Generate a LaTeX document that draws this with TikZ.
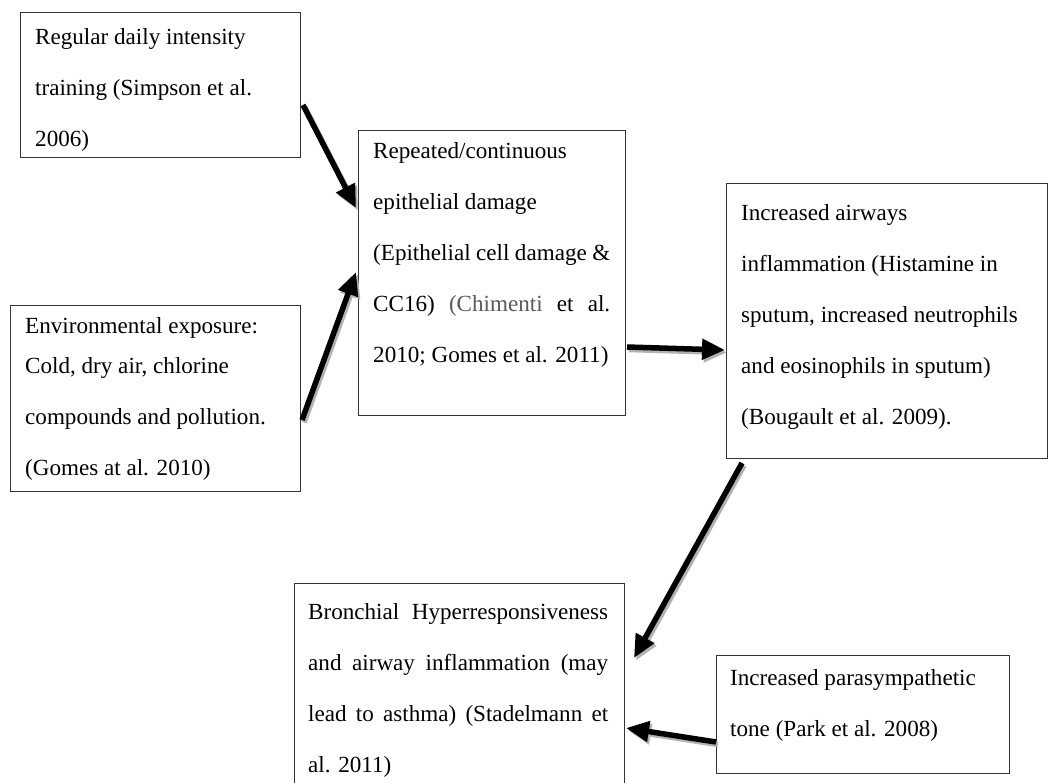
\documentclass[tikz,border=0pt]{standalone}
\usepackage{fontspec}
\setmainfont{Liberation Serif}
\usetikzlibrary{arrows.meta}
\definecolor{citegray}{HTML}{5A5A5A}
\begin{document}
\begin{tikzpicture}[x=1pt,y=-1pt,
  box/.style={draw=black!80, line width=1pt, anchor=north west, inner sep=0pt, outer sep=0pt},
  txt/.style={anchor=base west, inner sep=0pt, font=\fontsize{23.1}{51}\selectfont},
  arr/.style={line width=5.5pt, -{Triangle[length=23pt,width=20pt]}},
  shd/.style={arr, draw=black!30, transform canvas={shift={(2pt,-2.5pt)}}}]
\useasboundingbox (0,0) rectangle (1048,782);
\fill[white] (0,0) rectangle (1048,782);
\clip (0,0) rectangle (1048,782);

% boxes
\node[box, minimum width=280pt, minimum height=145pt] (A) at (20,12) {};
\node[box, minimum width=267pt, minimum height=285pt] (B) at (358,130) {};
\node[box, minimum width=321pt, minimum height=275pt] (C) at (726,183) {};
\node[box, minimum width=290pt, minimum height=186pt] (D) at (10,305) {};
\node[box, minimum width=293pt, minimum height=118pt] (E) at (716,655) {};
\node[box, minimum width=330pt, minimum height=230pt] (F) at (294,583) {};

% texts
\node[txt] (tA) at (35,44) {\parbox[t]{260pt}{Regular daily intensity\\training (Simpson et al.\\2006)}};
\node[txt] (tB) at (373,158) {\parbox[t]{237pt}{Repeated/continuous\\epithelial damage\\(Epithelial cell damage \&\\\makebox[\linewidth][s]{CC16) {\color{citegray}(Chimenti} et al.}\\2010; Gomes et al. 2011)}};
\node[txt] (tC) at (741,220) {\parbox[t]{295pt}{Increased airways\\inflammation (Histamine in\\sputum, increased neutrophils\\and eosinophils in sputum)\\(Bougault et al. 2009).}};
\node[txt] (tD) at (25,333) {\parbox[t]{270pt}{Environmental exposure:\\[-11pt]Cold, dry air, chlorine\\compounds and pollution.\\(Gomes at al. 2010)}};
\node[txt] (tE) at (730,685) {\parbox[t]{270pt}{Increased parasympathetic\\tone (Park et al. 2008)}};
\node[txt] (tF) at (308,619) {\parbox[t]{300pt}{\makebox[\linewidth][s]{Bronchial Hyperresponsiveness}\\\makebox[\linewidth][s]{and airway inflammation (may}\\\makebox[\linewidth][s]{lead to asthma) (Stadelmann et}\\al. 2011)}};

% arrows (shadow first, then black)
\foreach \s in {shd,arr}{
  \draw[\s] ([shift={(3,93)}]A.north east) -- ([shift={(-2,78)}]B.north west);
  \draw[\s] ([shift={(2,115)}]D.north east) -- ([shift={(-2,142)}]B.north west);
  \draw[\s] ([shift={(2,217)}]B.north east) -- ([shift={(-1,167)}]C.north west);
  \draw[\s] ([shift={(16,5)}]C.south west) -- ([shift={(10,75)}]F.north east);
  \draw[\s] ([shift={(0,87)}]E.north west) -- ([shift={(2,145)}]F.north east);
}
\end{tikzpicture}
\end{document}
